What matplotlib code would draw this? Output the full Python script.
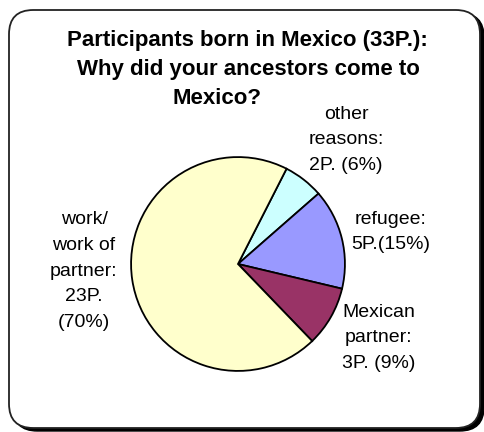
import matplotlib
matplotlib.use("Agg")
import matplotlib.pyplot as plt
from matplotlib.patches import FancyBboxPatch

plt.rcParams['font.family'] = ['Liberation Sans', 'DejaVu Sans']

# data
reasons = ["other\nreasons:", "refugee:", "Mexican\npartner:", "work/\nwork of\npartner:"]
counts = [2, 5, 3, 23]
pct_labels = ["2P. (6%)", "5P.(15%)", "3P. (9%)", "23P.\n(70%)"]
colors = ["#CCFFFF", "#9999FF", "#993366", "#FFFFCC"]
title_lines = ["Participants born in Mexico (33P.):", "Why did your ancestors come to", "Mexico?"]

W, H = 485, 432
fig = plt.figure(figsize=(W / 100, H / 100), dpi=100)

def fx(x):
    return x / W

def fy(y):
    return 1 - y / H

# rounded frame with shadow
x0, y0, x1, y1 = 9, 10, 480, 428
shadow = FancyBboxPatch((fx(x0 + 4), fy(y1 + 3)), fx(x1 - x0), (y1 - y0) / H,
                        boxstyle="round,pad=0,rounding_size=0.05", transform=fig.transFigure,
                        facecolor="black", edgecolor="black", lw=1, mutation_aspect=W / H,
                        zorder=-2)
frame = FancyBboxPatch((fx(x0), fy(y1)), fx(x1 - x0), (y1 - y0) / H,
                       boxstyle="round,pad=0,rounding_size=0.05", transform=fig.transFigure,
                       facecolor="white", edgecolor="#222222", lw=1.3, mutation_aspect=W / H,
                       zorder=-1)
fig.patches.append(shadow)
fig.patches.append(frame)

# pie
cx, cy, r = 238, 264, 108
ax = fig.add_axes([fx(cx - r), fy(cy + r), fx(2 * r), 2 * r / H])
ax.pie(counts, colors=colors, startangle=63, counterclock=False,
       wedgeprops=dict(edgecolor="black", linewidth=1.3))
ax.set_xlim(-1.01, 1.01)
ax.set_ylim(-1.01, 1.01)
ax.axis('off')

# title, line by line (last line sits left of centre in the original)
for line, (tx, ty) in zip(title_lines, [(247, 46), (248, 75), (217, 104)]):
    fig.text(fx(tx), fy(ty), line, ha="center", va="baseline", fontsize=16, fontweight="bold")

label_pos = [(346, 140), (391, 232), (379, 338), (84, 271)]
for reason, pl, (lx, ly) in zip(reasons, pct_labels, label_pos):
    fig.text(fx(lx), fy(ly), reason + "\n" + pl, ha="center", va="center", fontsize=14,
             linespacing=1.68)

fig.savefig("out.png", dpi=100)
